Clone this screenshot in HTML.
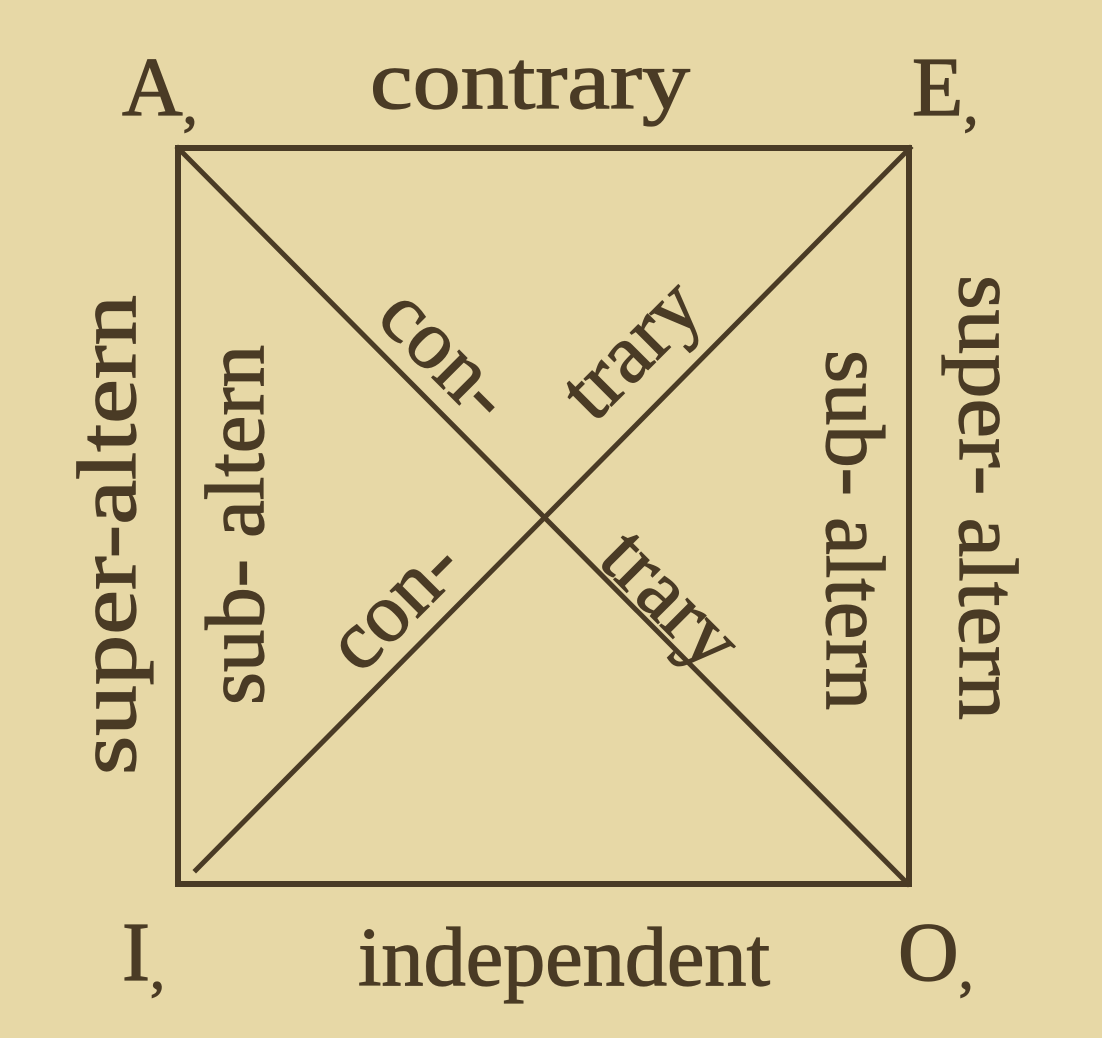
<!DOCTYPE html>
<html><head><meta charset="utf-8"><style>
html,body{margin:0;padding:0;background:#e7d8a6;}
svg{display:block}
text{font-family:"Liberation Serif",serif;fill:#4a3b25;font-size:84px;stroke:#4a3b25;stroke-width:1.2px;}
</style></head><body>
<svg width="1102" height="1038" viewBox="0 0 1102 1038">
<rect width="1102" height="1038" fill="#e7d8a6"/>
<g stroke="#4a3b25" stroke-width="6" fill="none" stroke-linecap="square">
<rect x="178" y="148" width="731" height="736"/>
<line x1="178" y1="148" x2="908" y2="884" stroke-width="5"/>
<line x1="910" y1="148" x2="196" y2="870" stroke-width="5"/>
</g>
<text x="370" y="108" textLength="320" lengthAdjust="spacingAndGlyphs">contrary</text>
<text x="358" y="985" textLength="412" lengthAdjust="spacingAndGlyphs">independent</text>
<text x="122" y="115">A<tspan font-size="60" dy="8">,</tspan></text>
<text x="912" y="115">E<tspan font-size="60" dy="8">,</tspan></text>
<text x="122" y="980">I<tspan font-size="60" dy="8">,</tspan></text>
<text x="898" y="980">O<tspan font-size="60" dy="8">,</tspan></text>
<text transform="translate(110,775) rotate(-90)" dy="0.3em" textLength="480" lengthAdjust="spacingAndGlyphs">super-altern</text>
<text transform="translate(238,705) rotate(-90)" dy="0.3em" textLength="360" lengthAdjust="spacingAndGlyphs">sub- altern</text>
<text transform="translate(852,350) rotate(90)" dy="0.3em" textLength="360" lengthAdjust="spacingAndGlyphs">sub- altern</text>
<text transform="translate(985,275) rotate(90)" dy="0.3em" textLength="445" lengthAdjust="spacingAndGlyphs">super- altern</text>
<g text-anchor="middle">
<text transform="translate(445,355) rotate(45)" dy="0.3em">con-</text>
<text transform="translate(632,350) rotate(-45)" dy="0.3em">trary</text>
<text transform="translate(395,605) rotate(-45)" dy="0.3em">con-</text>
<text transform="translate(670,600) rotate(45)" dy="0.3em">trary</text>
</g>
</svg>
</body></html>
